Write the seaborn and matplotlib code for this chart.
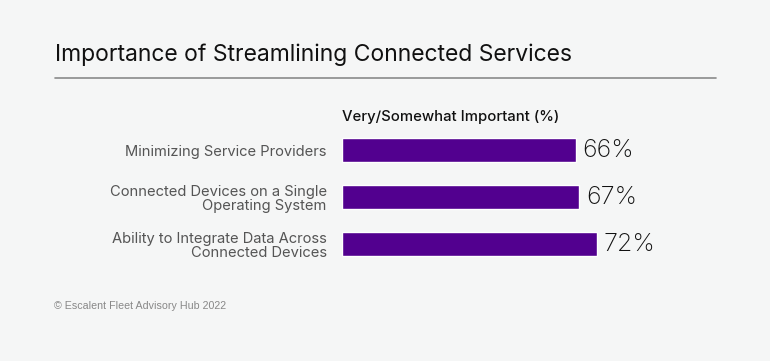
import pandas as pd
import matplotlib.pyplot as plt
import seaborn as sns

# Chart data
categories = [
    "Minimizing Service Providers",
    "Connected Devices on a Single\nOperating System",
    "Ability to Integrate Data Across\nConnected Devices",
]
values = [66, 67, 72]

df = pd.DataFrame({"category": categories, "value": values})

bg = "#f5f6f6"
purple = "#52008f"

sns.set_style("white")
plt.rcParams["font.family"] = ["Inter", "DejaVu Sans"]

fig = plt.figure(figsize=(7.7, 3.61), dpi=100, facecolor=bg)
ax = fig.add_axes([342 / 770, 1 - 267.5 / 361, (716 - 342) / 770, 141 / 361])
ax.set_facecolor(bg)

sns.barplot(data=df, x="value", y="category", color=purple, width=0.51,
            saturation=1, ax=ax)

ax.set_xlim(0, (716 - 342) / 3.54)
ax.set_ylim(2.5, -0.5)
ax.set_xlabel("")
ax.set_ylabel("")
ax.set_xticks([])
ax.tick_params(axis="y", length=0, pad=11, labelsize=10.6, labelcolor="#555555")
for lbl in ax.get_yticklabels():
    lbl.set_horizontalalignment("right")
    lbl.set_multialignment("right")
    lbl.set_linespacing(1.05)
sns.despine(ax=ax, left=True, bottom=True)

# value labels
for i, v in enumerate(values):
    ax.text(v + 2.0, i, f"{v}%", va="center", ha="left", fontsize=18,
            fontweight="light", color="#111111")

# header above the bars
fig.text(342 / 770, 1 - 117 / 361, "Very/Somewhat Important (%)", fontsize=10.7,
         fontweight="medium", color="#111111", va="center", ha="left")

# title and rule
fig.text(55 / 770, 1 - 55 / 361, "Importance of Streamlining Connected Services",
         fontsize=16.5, color="#111111", va="center", ha="left")
fig.add_artist(plt.Line2D([55 / 770, 716 / 770], [1 - 78 / 361, 1 - 78 / 361],
                          color="#8a8a8a", linewidth=1.2))

# footer
fig.text(54 / 770, 1 - 306 / 361, "© Escalent Fleet Advisory Hub 2022", fontsize=7.7,
         color="#888888", va="center", ha="left", family=["Liberation Sans", "DejaVu Sans"])

fig.savefig("out.png", dpi=100, facecolor=bg)
